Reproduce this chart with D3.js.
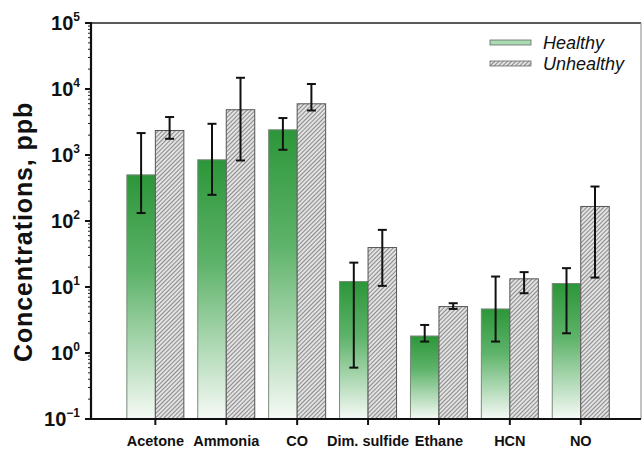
<!DOCTYPE html>
<html>
<head>
<meta charset="utf-8">
<script src="https://cdn.jsdelivr.net/npm/d3@7"></script>
<style>
  body { margin: 0; background: #fff; }
  svg text { font-family: "Liberation Sans", Arial, sans-serif; }
</style>
</head>
<body>
<div id="chart"></div>
<script>
// data
const categories = ["Acetone", "Ammonia", "CO", "Dim. sulfide", "Ethane", "HCN", "NO"];
const seriesNames = ["Healthy", "Unhealthy"];
const healthy     = [500, 846, 2410, 12.1, 1.81, 4.65, 11.3];
const healthyLow  = [132, 249, 1200, 0.60, 1.49, 1.49, 1.99];
const healthyHigh = [2150, 2970, 3630, 23.4, 2.66, 14.4, 19.3];
const unhealthy     = [2350, 4850, 5970, 39.6, 5.05, 13.3, 166];
const unhealthyLow  = [1760, 826, 4730, 10.4, 4.65, 8.05, 13.9];
const unhealthyHigh = [3760, 14800, 11900, 73.4, 5.68, 16.8, 333];
const yTicks = [-1, 0, 1, 2, 3, 4, 5];

const W = 644, H = 449;
const plot = { left: 91, right: 641, top: 23, bottom: 419 };

const svg = d3.select("#chart").append("svg")
    .attr("width", W).attr("height", H);

const defs = svg.append("defs");

// gradient for healthy bars (per bar, top dark -> bottom white)
const grad = defs.append("linearGradient")
    .attr("id", "greenGrad")
    .attr("x1", 0).attr("y1", 0).attr("x2", 0).attr("y2", 1);
grad.append("stop").attr("offset", "0%").attr("stop-color", "#2c9639");
grad.append("stop").attr("offset", "40%").attr("stop-color", "#5eb36a");
grad.append("stop").attr("offset", "100%").attr("stop-color", "#f6faf6");

// hatch for unhealthy bars
const hatch = defs.append("pattern")
    .attr("id", "hatch")
    .attr("patternUnits", "userSpaceOnUse")
    .attr("width", 3).attr("height", 3)
    .attr("patternTransform", "rotate(45)");
hatch.append("rect").attr("width", 3).attr("height", 3).attr("fill", "#e2e2e2");
hatch.append("line")
    .attr("x1", 0).attr("y1", 0).attr("x2", 0).attr("y2", 3)
    .attr("stroke", "#333").attr("stroke-width", 1);

// scales
const x = d3.scaleBand()
    .domain(categories)
    .range([119.9, 616.2])
    .padding(0);

const y = d3.scaleLog()
    .domain([0.1, 1e5])
    .range([plot.bottom, plot.top]);

const barW = 28.5;

const rows = categories.map((c, i) => ({
    cat: c,
    vals: [
        { s: 0, v: healthy[i], lo: healthyLow[i], hi: healthyHigh[i] },
        { s: 1, v: unhealthy[i], lo: unhealthyLow[i], hi: unhealthyHigh[i] }
    ]
}));

const groups = svg.selectAll("g.cat")
    .data(rows)
    .enter().append("g")
    .attr("class", "cat");

groups.each(function (d) {
    const g = d3.select(this);
    const cx = x(d.cat) + x.bandwidth() / 2;
    d.vals.forEach(b => {
        const x0 = b.s === 0 ? cx - barW : cx;
        g.append("rect")
            .attr("x", x0)
            .attr("y", y(b.v))
            .attr("width", barW)
            .attr("height", y(0.1) - y(b.v))
            .attr("fill", b.s === 0 ? "url(#greenGrad)" : "url(#hatch)")
            .attr("stroke", b.s === 0 ? "#7a8a7a" : "#555")
            .attr("stroke-width", 1);
    });
    // error bars
    d.vals.forEach(b => {
        const ex = b.s === 0 ? cx - barW / 2 : cx + barW / 2;
        g.append("line")
            .attr("x1", ex).attr("x2", ex)
            .attr("y1", y(b.hi)).attr("y2", y(b.lo))
            .attr("stroke", "#111").attr("stroke-width", 2);
        [b.hi, b.lo].forEach(v => {
            g.append("line")
                .attr("x1", ex - 4.5).attr("x2", ex + 4.5)
                .attr("y1", y(v)).attr("y2", y(v))
                .attr("stroke", "#111").attr("stroke-width", 2);
        });
    });
});

// frame: top and right
svg.append("line")
    .attr("x1", plot.left).attr("x2", plot.right)
    .attr("y1", plot.top).attr("y2", plot.top)
    .attr("stroke", "#222").attr("stroke-width", 1.5);
svg.append("line")
    .attr("x1", plot.right).attr("x2", plot.right)
    .attr("y1", plot.top).attr("y2", plot.bottom)
    .attr("stroke", "#888").attr("stroke-width", 1);

// y axis with minor ticks
const yAxis = svg.append("g").attr("transform", `translate(${plot.left},0)`);
const minor = [];
for (let e = -1; e < 5; e++) {
    for (let m = 2; m <= 9; m++) minor.push(m * Math.pow(10, e));
}
yAxis.selectAll("line.minor")
    .data(minor)
    .enter().append("line")
    .attr("x1", -3).attr("x2", 0)
    .attr("y1", d => y(d)).attr("y2", d => y(d))
    .attr("stroke", "#222").attr("stroke-width", 1);
yAxis.selectAll("line.major")
    .data(yTicks)
    .enter().append("line")
    .attr("x1", -6).attr("x2", 0)
    .attr("y1", d => y(Math.pow(10, d))).attr("y2", d => y(Math.pow(10, d)))
    .attr("stroke", "#111").attr("stroke-width", 2);
yAxis.append("line")
    .attr("x1", 0).attr("x2", 0)
    .attr("y1", plot.top - 1).attr("y2", plot.bottom + 1)
    .attr("stroke", "#111").attr("stroke-width", 2.2);

const lbl = yAxis.selectAll("text.tick")
    .data(yTicks)
    .enter().append("text")
    .attr("x", -11)
    .attr("y", d => y(Math.pow(10, d)) + 7)
    .attr("text-anchor", "end")
    .style("font-weight", "bold")
    .style("font-size", "20px")
    .style("fill", "#111");
lbl.append("tspan").text("10");
lbl.append("tspan")
    .attr("dy", -9)
    .style("font-size", "12px")
    .text(d => String(d).replace("-", "\u2212"));

// x axis
const xAxis = svg.append("g").attr("transform", `translate(0,${plot.bottom})`);
xAxis.append("line")
    .attr("x1", plot.left - 1).attr("x2", plot.right)
    .attr("y1", 0).attr("y2", 0)
    .attr("stroke", "#111").attr("stroke-width", 2.2);
xAxis.selectAll("line.tick")
    .data(categories)
    .enter().append("line")
    .attr("x1", d => x(d) + x.bandwidth() / 2)
    .attr("x2", d => x(d) + x.bandwidth() / 2)
    .attr("y1", 0).attr("y2", 6)
    .attr("stroke", "#111").attr("stroke-width", 2);
xAxis.selectAll("text")
    .data(categories)
    .enter().append("text")
    .attr("x", d => x(d) + x.bandwidth() / 2)
    .attr("y", 27)
    .attr("text-anchor", "middle")
    .style("font-weight", "bold")
    .style("font-size", "14.5px")
    .style("fill", "#111")
    .text(d => d);

// y label
svg.append("text")
    .attr("transform", "translate(32,232) rotate(-90)")
    .attr("text-anchor", "middle")
    .style("font-weight", "bold")
    .style("font-size", "25px")
    .style("letter-spacing", "0.9px")
    .style("fill", "#111")
    .text("Concentrations, ppb");

// legend
const legend = svg.append("g").attr("transform", "translate(490,40)");
seriesNames.forEach((name, i) => {
    const item = legend.append("g").attr("transform", `translate(0,${i * 21})`);
    item.append("rect")
        .attr("width", 41).attr("height", 5)
        .attr("fill", i === 0 ? "#a9dcb1" : "url(#hatch)")
        .attr("stroke", "#666").attr("stroke-width", 0.8);
    item.append("text")
        .attr("x", 53).attr("y", 9)
        .style("font-style", "italic")
        .style("font-size", "18px")
        .style("fill", "#111")
        .text(name);
});
</script>
</body>
</html>
